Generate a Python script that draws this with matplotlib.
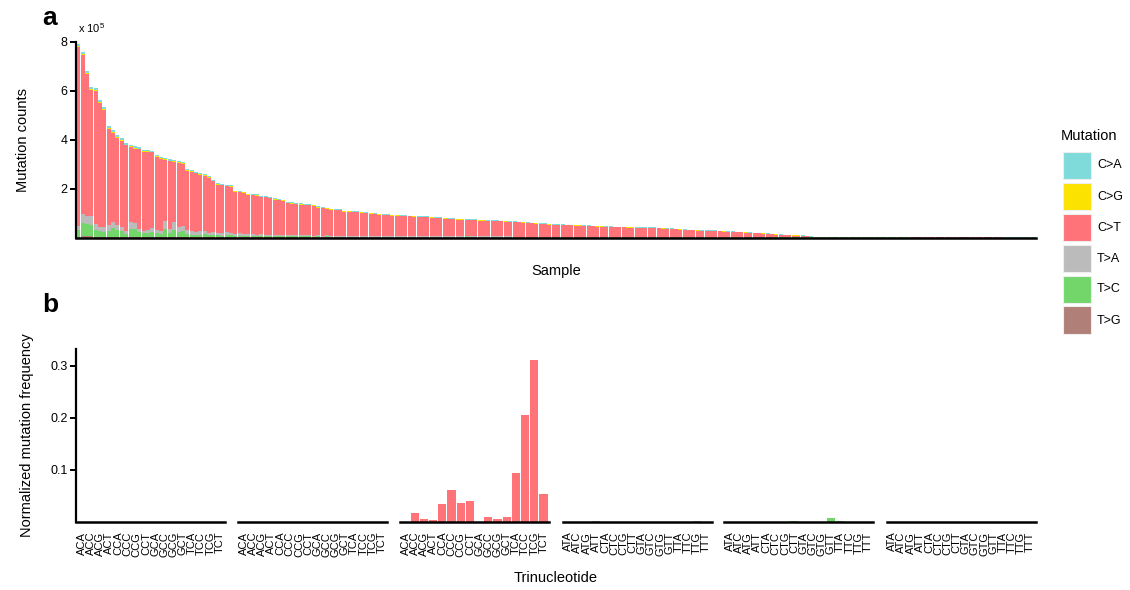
import numpy as np
import matplotlib
matplotlib.use("Agg")
import matplotlib.pyplot as plt
from matplotlib.patches import Rectangle

plt.rcParams["font.family"] = ["Liberation Sans", "DejaVu Sans"]
plt.rcParams["mathtext.fontset"] = "custom"
plt.rcParams["mathtext.rm"] = "Liberation Sans"
plt.rcParams["mathtext.it"] = "Liberation Sans"

# -------------------------------------------------------
# Datos panel a: conteos por muestra (unidades de 1e5)
# -------------------------------------------------------
total = [
    7.92, 7.58, 6.82, 6.16, 6.10, 5.63, 5.32, 4.56, 4.40, 4.20, 4.06, 3.86, 3.80, 3.73, 3.70, 3.60, 3.58, 3.56, 3.38, 3.31,
    3.25, 3.20, 3.16, 3.14, 3.08, 2.82, 2.78, 2.70, 2.64, 2.60, 2.50, 2.36, 2.22, 2.20, 2.16, 2.14, 1.92, 1.90, 1.88, 1.80,
    1.78, 1.76, 1.70, 1.69, 1.66, 1.60, 1.58, 1.55, 1.46, 1.44, 1.42, 1.40, 1.38, 1.37, 1.34, 1.27, 1.25, 1.22, 1.18, 1.16,
    1.15, 1.10, 1.09, 1.08, 1.07, 1.06, 1.04, 1.02, 1.00, 0.98, 0.96, 0.95, 0.94, 0.93, 0.92, 0.91, 0.90, 0.89, 0.88, 0.87,
    0.86, 0.84, 0.83, 0.82, 0.80, 0.79, 0.78, 0.77, 0.76, 0.75, 0.75, 0.74, 0.73, 0.72, 0.71, 0.71, 0.70, 0.69, 0.68, 0.67,
    0.66, 0.65, 0.64, 0.62, 0.61, 0.60, 0.59, 0.58, 0.56, 0.55, 0.54, 0.54, 0.53, 0.53, 0.52, 0.52, 0.51, 0.50, 0.49, 0.48,
    0.47, 0.46, 0.46, 0.45, 0.44, 0.44, 0.43, 0.43, 0.42, 0.42, 0.41, 0.41, 0.41, 0.40, 0.39, 0.38, 0.37, 0.36, 0.35, 0.33,
    0.32, 0.32, 0.31, 0.30, 0.30, 0.29, 0.29, 0.28, 0.27, 0.26, 0.25, 0.24, 0.23, 0.22, 0.21, 0.20, 0.19, 0.18, 0.17, 0.15,
    0.14, 0.13, 0.12, 0.11, 0.10, 0.10, 0.09, 0.07, 0.05, 0.04, 0.04, 0.03, 0.03, 0.03, 0.03, 0.02, 0.02, 0.02, 0.02, 0.02,
    0.02, 0.02, 0.02, 0.015, 0.015, 0.015, 0.01, 0.01, 0.01, 0.01, 0.01, 0.008, 0.008, 0.007, 0.007, 0.006, 0.006, 0.005, 0.005, 0.005,
    0.004, 0.004, 0.004, 0.003, 0.003, 0.003, 0.003, 0.002, 0.002, 0.002, 0.002, 0.002, 0.001, 0.001, 0.001, 0.001, 0.001, 0.001, 0.001, 0.001,
]

t_g = [
    0.04, 0.05, 0.05, 0.05, 0.04, 0.03, 0.03, 0.03, 0.04, 0.03, 0.03, 0.02, 0.03, 0.03, 0.02, 0.02, 0.02, 0.02, 0.02, 0.02,
    0.03, 0.02, 0.03, 0.02, 0.02, 0.02, 0.01, 0.01, 0.01, 0.01, 0.01, 0.01, 0.01, 0.01, 0.01, 0.01, 0.01, 0.01, 0.01, 0.01,
    0.01, 0.01, 0.01, 0.01, 0.01, 0.01, 0.01, 0.01, 0.01, 0.01, 0.01, 0.01, 0.01, 0.01, 0.01, 0.01, 0.01, 0.01, 0.01, 0.01,
    0.01, 0.01, 0.01, 0.01, 0.01, 0.01, 0.01, 0.01, 0.01, 0.01, 0.01, 0.01, 0.01, 0.01, 0.01, 0.01, 0.01, 0.01, 0.01, 0.01,
    0.005, 0.005, 0.005, 0.005, 0.005, 0.005, 0.005, 0.005, 0.005, 0.005, 0.005, 0.005, 0.005, 0.005, 0.005, 0.005, 0.005, 0.005, 0.005, 0.005,
    0.005, 0.005, 0.005, 0.005, 0.005, 0.005, 0.005, 0.005, 0.005, 0.005, 0.005, 0.005, 0.005, 0.005, 0.005, 0.005, 0.005, 0.005, 0.005, 0.005,
    0.003, 0.003, 0.003, 0.003, 0.003, 0.003, 0.003, 0.003, 0.003, 0.003, 0.003, 0.003, 0.003, 0.003, 0.003, 0.003, 0.003, 0.003, 0.003, 0.003,
    0.002, 0.002, 0.002, 0.002, 0.002, 0.002, 0.002, 0.002, 0.002, 0.002, 0.002, 0.002, 0.002, 0.002, 0.002, 0.002, 0.002, 0.002, 0.002, 0.002,
    0, 0, 0, 0, 0, 0, 0, 0, 0, 0, 0, 0, 0, 0, 0, 0, 0, 0, 0, 0,
    0, 0, 0, 0, 0, 0, 0, 0, 0, 0, 0, 0, 0, 0, 0, 0, 0, 0, 0, 0,
    0, 0, 0, 0, 0, 0, 0, 0, 0, 0, 0, 0, 0, 0, 0, 0, 0, 0, 0, 0,
]

t_c = [
    0.28, 0.55, 0.50, 0.45, 0.28, 0.22, 0.19, 0.25, 0.34, 0.27, 0.22, 0.13, 0.32, 0.30, 0.20, 0.16, 0.15, 0.20, 0.16, 0.13,
    0.30, 0.18, 0.27, 0.20, 0.26, 0.13, 0.11, 0.09, 0.11, 0.13, 0.09, 0.09, 0.08, 0.07, 0.09, 0.08, 0.06, 0.07, 0.06, 0.06,
    0.06, 0.05, 0.06, 0.05, 0.05, 0.05, 0.04, 0.05, 0.04, 0.04, 0.05, 0.04, 0.04, 0.04, 0.03, 0.04, 0.03, 0.04, 0.03, 0.03,
    0.03, 0.03, 0.03, 0.03, 0.03, 0.03, 0.03, 0.03, 0.03, 0.02, 0.03, 0.02, 0.02, 0.02, 0.02, 0.02, 0.02, 0.02, 0.02, 0.02,
    0.02, 0.02, 0.02, 0.02, 0.02, 0.02, 0.02, 0.02, 0.02, 0.04, 0.03, 0.02, 0.02, 0.02, 0.02, 0.02, 0.02, 0.02, 0.02, 0.02,
    0.015, 0.015, 0.015, 0.015, 0.015, 0.015, 0.015, 0.015, 0.015, 0.015, 0.015, 0.015, 0.015, 0.015, 0.015, 0.015, 0.015, 0.015, 0.015, 0.015,
    0.01, 0.01, 0.01, 0.01, 0.01, 0.01, 0.01, 0.01, 0.01, 0.01, 0.01, 0.01, 0.01, 0.01, 0.01, 0.01, 0.01, 0.01, 0.01, 0.01,
    0.01, 0.01, 0.01, 0.01, 0.01, 0.01, 0.01, 0.01, 0.01, 0.01, 0.008, 0.008, 0.008, 0.008, 0.008, 0.006, 0.006, 0.006, 0.006, 0.006,
    0.005, 0.005, 0.005, 0.004, 0.004, 0.004, 0.003, 0.003, 0.002, 0.002, 0.002, 0.002, 0.002, 0.002, 0.002, 0.001, 0.001, 0.001, 0.001, 0.001,
    0.001, 0.001, 0.001, 0.001, 0.001, 0.001, 0.001, 0.001, 0.001, 0.001, 0.001, 0, 0, 0, 0, 0, 0, 0, 0, 0,
    0, 0, 0, 0, 0, 0, 0, 0, 0, 0, 0, 0, 0, 0, 0, 0, 0, 0, 0, 0,
]

t_a = [
    0.15, 0.35, 0.31, 0.40, 0.23, 0.20, 0.20, 0.22, 0.24, 0.22, 0.20, 0.13, 0.30, 0.27, 0.13, 0.10, 0.13, 0.16, 0.12, 0.10,
    0.35, 0.15, 0.32, 0.20, 0.20, 0.15, 0.13, 0.12, 0.13, 0.14, 0.10, 0.12, 0.11, 0.10, 0.12, 0.11, 0.08, 0.09, 0.08, 0.07,
    0.07, 0.06, 0.07, 0.06, 0.06, 0.05, 0.05, 0.06, 0.05, 0.05, 0.05, 0.04, 0.05, 0.04, 0.04, 0.04, 0.04, 0.04, 0.03, 0.04,
    0.03, 0.03, 0.03, 0.03, 0.03, 0.03, 0.03, 0.03, 0.03, 0.03, 0.03, 0.03, 0.03, 0.02, 0.02, 0.02, 0.02, 0.02, 0.02, 0.02,
    0.02, 0.02, 0.02, 0.02, 0.02, 0.02, 0.02, 0.02, 0.02, 0.02, 0.02, 0.02, 0.02, 0.02, 0.02, 0.02, 0.02, 0.02, 0.02, 0.02,
    0.015, 0.015, 0.015, 0.015, 0.015, 0.015, 0.015, 0.015, 0.015, 0.015, 0.015, 0.015, 0.015, 0.015, 0.015, 0.015, 0.015, 0.015, 0.015, 0.015,
    0.01, 0.01, 0.01, 0.01, 0.01, 0.01, 0.01, 0.01, 0.01, 0.01, 0.01, 0.01, 0.01, 0.01, 0.01, 0.01, 0.01, 0.01, 0.01, 0.01,
    0.01, 0.01, 0.01, 0.01, 0.01, 0.01, 0.01, 0.01, 0.01, 0.01, 0.008, 0.008, 0.008, 0.008, 0.008, 0.006, 0.006, 0.006, 0.006, 0.006,
    0.005, 0.005, 0.005, 0.004, 0.004, 0.004, 0.003, 0.003, 0.002, 0.002, 0.002, 0.002, 0.002, 0.002, 0.002, 0.001, 0.001, 0.001, 0.001, 0.001,
    0.001, 0.001, 0.001, 0.001, 0.001, 0.001, 0.001, 0.001, 0.001, 0.001, 0.001, 0, 0, 0, 0, 0, 0, 0, 0, 0,
    0, 0, 0, 0, 0, 0, 0, 0, 0, 0, 0, 0, 0, 0, 0, 0, 0, 0, 0, 0,
]

c_g = [
    0.04, 0.04, 0.04, 0.04, 0.04, 0.04, 0.04, 0.04, 0.04, 0.04, 0.04, 0.03, 0.03, 0.03, 0.03, 0.03, 0.03, 0.03, 0.03, 0.03,
    0.03, 0.03, 0.03, 0.03, 0.03, 0.03, 0.03, 0.03, 0.03, 0.03, 0.02, 0.02, 0.02, 0.02, 0.02, 0.02, 0.02, 0.02, 0.02, 0.02,
    0.02, 0.02, 0.02, 0.02, 0.02, 0.02, 0.02, 0.02, 0.02, 0.02, 0.02, 0.02, 0.02, 0.02, 0.02, 0.02, 0.02, 0.02, 0.02, 0.02,
    0.015, 0.015, 0.015, 0.015, 0.015, 0.015, 0.015, 0.015, 0.015, 0.015, 0.015, 0.015, 0.015, 0.015, 0.015, 0.015, 0.015, 0.015, 0.015, 0.015,
    0.015, 0.015, 0.015, 0.015, 0.015, 0.015, 0.015, 0.015, 0.015, 0.015, 0.015, 0.015, 0.015, 0.015, 0.015, 0.015, 0.015, 0.015, 0.015, 0.015,
    0.012, 0.012, 0.012, 0.012, 0.012, 0.012, 0.012, 0.012, 0.012, 0.012, 0.012, 0.012, 0.012, 0.012, 0.012, 0.012, 0.012, 0.012, 0.012, 0.012,
    0.01, 0.01, 0.01, 0.01, 0.01, 0.01, 0.01, 0.01, 0.01, 0.01, 0.01, 0.01, 0.01, 0.01, 0.01, 0.01, 0.01, 0.01, 0.01, 0.01,
    0.01, 0.01, 0.01, 0.01, 0.01, 0.01, 0.01, 0.01, 0.01, 0.01, 0.01, 0.01, 0.01, 0.01, 0.01, 0.01, 0.01, 0.01, 0.01, 0.01,
    0.01, 0.01, 0.01, 0.01, 0.01, 0.01, 0.01, 0.01, 0.008, 0.006, 0.006, 0.005, 0.005, 0.005, 0.005, 0.004, 0.004, 0.004, 0.004, 0.004,
    0.004, 0.004, 0.004, 0.003, 0.003, 0.003, 0.002, 0.002, 0.002, 0.002, 0.002, 0.002, 0.002, 0.002, 0.002, 0.001, 0.001, 0.001, 0.001, 0.001,
    0.001, 0.001, 0.001, 0.001, 0.001, 0.001, 0.001, 0, 0, 0, 0, 0, 0, 0, 0, 0, 0, 0, 0, 0,
]

c_a = [
    0.07, 0.07, 0.07, 0.08, 0.08, 0.07, 0.07, 0.07, 0.08, 0.07, 0.06, 0.06, 0.06, 0.06, 0.06, 0.06, 0.06, 0.05, 0.05, 0.05,
    0.05, 0.05, 0.05, 0.05, 0.05, 0.05, 0.05, 0.05, 0.04, 0.04, 0.04, 0.04, 0.04, 0.04, 0.04, 0.04, 0.03, 0.03, 0.03, 0.03,
    0.03, 0.03, 0.03, 0.03, 0.03, 0.03, 0.03, 0.03, 0.03, 0.03, 0.03, 0.03, 0.03, 0.03, 0.03, 0.03, 0.03, 0.03, 0.03, 0.03,
    0.025, 0.025, 0.025, 0.025, 0.025, 0.025, 0.025, 0.025, 0.025, 0.025, 0.025, 0.025, 0.025, 0.025, 0.025, 0.025, 0.025, 0.025, 0.025, 0.025,
    0.02, 0.02, 0.02, 0.02, 0.02, 0.02, 0.02, 0.02, 0.02, 0.02, 0.02, 0.02, 0.02, 0.02, 0.02, 0.02, 0.02, 0.02, 0.02, 0.02,
    0.02, 0.02, 0.02, 0.02, 0.02, 0.02, 0.02, 0.02, 0.02, 0.02, 0.02, 0.02, 0.02, 0.02, 0.02, 0.02, 0.02, 0.02, 0.02, 0.02,
    0.015, 0.015, 0.015, 0.015, 0.015, 0.015, 0.015, 0.015, 0.015, 0.015, 0.015, 0.015, 0.015, 0.015, 0.015, 0.015, 0.015, 0.015, 0.015, 0.015,
    0.015, 0.015, 0.015, 0.015, 0.015, 0.015, 0.015, 0.015, 0.015, 0.015, 0.015, 0.015, 0.015, 0.015, 0.015, 0.015, 0.015, 0.015, 0.015, 0.015,
    0.015, 0.015, 0.015, 0.015, 0.015, 0.015, 0.012, 0.01, 0.01, 0.008, 0.008, 0.008, 0.008, 0.008, 0.008, 0.006, 0.006, 0.006, 0.006, 0.006,
    0.006, 0.006, 0.006, 0.005, 0.005, 0.005, 0.004, 0.004, 0.004, 0.004, 0.004, 0.003, 0.003, 0.003, 0.003, 0.003, 0.003, 0.002, 0.002, 0.002,
    0.002, 0.002, 0.002, 0.001, 0.001, 0.001, 0.001, 0.001, 0.001, 0.001, 0.001, 0.001, 0.001, 0.001, 0.001, 0.001, 0.001, 0.001, 0.001, 0.001,
]

# -------------------------------------------------------
# Datos panel b: frecuencia normalizada por trinucleótido
# -------------------------------------------------------
mutations = ["C>A", "C>G", "C>T", "T>A", "T>C", "T>G"]
colors = {"C>A": "#7fdada", "C>G": "#fbe200", "C>T": "#ff7379",
          "T>A": "#bbbbbb", "T>C": "#72d66b", "T>G": "#b07f77"}

c_context = ["ACA", "ACC", "ACG", "ACT", "CCA", "CCC", "CCG", "CCT",
             "GCA", "GCC", "GCG", "GCT", "TCA", "TCC", "TCG", "TCT"]
t_context = ["ATA", "ATC", "ATG", "ATT", "CTA", "CTC", "CTG", "CTT",
             "GTA", "GTC", "GTG", "GTT", "TTA", "TTC", "TTG", "TTT"]

freq_ca = [0, 0, 0, 0, 0, 0, 0, 0, 0, 0, 0, 0, 0, 0, 0, 0]
freq_cg = [0, 0, 0, 0, 0, 0, 0, 0, 0, 0, 0, 0, 0, 0, 0, 0]
freq_ct = [0.0, 0.017, 0.005, 0.004, 0.035, 0.061, 0.036, 0.040,
           0.0, 0.010, 0.005, 0.009, 0.094, 0.205, 0.311, 0.053]
freq_ta = [0, 0, 0, 0.002, 0, 0, 0, 0, 0, 0, 0, 0, 0, 0, 0.002, 0]
freq_tc = [0, 0, 0, 0, 0, 0, 0, 0.002, 0, 0, 0, 0.008, 0.002, 0, 0, 0]
freq_tg = [0, 0, 0, 0, 0, 0, 0, 0, 0, 0, 0, 0, 0, 0, 0, 0]

# -------------------------------------------------------
# Figura
# -------------------------------------------------------
W, H = 1130, 590
fig = plt.figure(figsize=(W / 100, H / 100), dpi=100)


def px_axes(left, top, right, bottom):
    return fig.add_axes([left / W, 1 - bottom / H, (right - left) / W, (bottom - top) / H])


# ---- panel a ----
ax = px_axes(76, 42, 1036, 237.5)
n = len(total)
x = np.arange(n)
comp = {"C>A": np.array(c_a), "C>G": np.array(c_g), "T>A": np.array(t_a),
        "T>C": np.array(t_c), "T>G": np.array(t_g)}
comp["C>T"] = np.array(total) - comp["C>A"] - comp["C>G"] - comp["T>A"] - comp["T>C"] - comp["T>G"]

bottom = np.zeros(n)
for m in ["T>G", "T>C", "T>A", "C>T", "C>G", "C>A"]:
    ax.bar(x, comp[m], bottom=bottom, width=0.9, color=colors[m], linewidth=0)
    bottom += comp[m]

ax.set_xlim(-0.5, n - 0.5)
ax.set_ylim(0, 8)
ax.set_yticks([2, 4, 6, 8])
ax.set_xticks([])
for s in ["top", "right"]:
    ax.spines[s].set_visible(False)
ax.spines["left"].set_linewidth(1.6)
ax.spines["bottom"].set_linewidth(1.8)
ax.tick_params(axis="y", length=4, width=1.4, labelsize=9, pad=2)
ax.set_ylabel("Mutation counts", fontsize=10.5, labelpad=22)
ax.set_xlabel("Sample", fontsize=10.5, labelpad=19)
fig.text(78 / W, 1 - 28 / H, r"x 10$^5$", fontsize=8, va="center", ha="left")
fig.text(42 / W, 1 - 18 / H, "a", fontsize=19, fontweight="bold", va="center")

# ---- panel b ----
freqs = [freq_ca, freq_cg, freq_ct, freq_ta, freq_tc, freq_tg]
lefts = [76, 238.3, 400, 562.7, 724.3, 886.7]
for k, m in enumerate(mutations):
    axb = px_axes(lefts[k], 349, lefts[k] + 149, 522)
    ctx = c_context if m.startswith("C") else t_context
    axb.bar(np.arange(16), freqs[k], width=0.9, color=colors[m], linewidth=0)
    axb.set_xlim(-0.6, 15.6)
    axb.set_ylim(0, 0.332)
    axb.set_xticks(np.arange(16))
    axb.set_xticklabels(ctx, rotation=90, fontsize=8)
    axb.tick_params(axis="x", length=0, pad=7)
    for s in ["top", "right"]:
        axb.spines[s].set_visible(False)
    axb.spines["bottom"].set_linewidth(1.8)
    if k == 0:
        axb.set_yticks([0.1, 0.2, 0.3])
        axb.set_yticklabels(["0.1", "0.2", "0.3"])
        axb.tick_params(axis="y", length=4, width=1.4, labelsize=9, pad=2)
        axb.spines["left"].set_linewidth(1.6)
        axb.set_ylabel("Normalized mutation frequency", fontsize=10.5, labelpad=12)
    else:
        axb.spines["left"].set_visible(False)
        axb.set_yticks([])

fig.text(556 / W, 1 - 578 / H, "Trinucleotide", fontsize=10.5, ha="center", va="center")
fig.text(42 / W, 1 - 305 / H, "b", fontsize=19, fontweight="bold", va="center")

# ---- leyenda (dibujada a mano para controlar tamaños) ----
fig.text(1061 / W, 1 - 136 / H, "Mutation", fontsize=10.5, ha="left", va="center")
for i, m in enumerate(mutations):
    top = 151.5 + 31 * i
    fig.patches.append(Rectangle((1062.5 / W, 1 - (top + 27.7) / H), 28 / W, 27.7 / H,
                                 transform=fig.transFigure, facecolor=colors[m],
                                 edgecolor="#eeeeee", linewidth=0.8))
    fig.text(1097 / W, 1 - (top + 14) / H, m, fontsize=9, ha="left", va="center")

fig.savefig("out.png", dpi=100)
